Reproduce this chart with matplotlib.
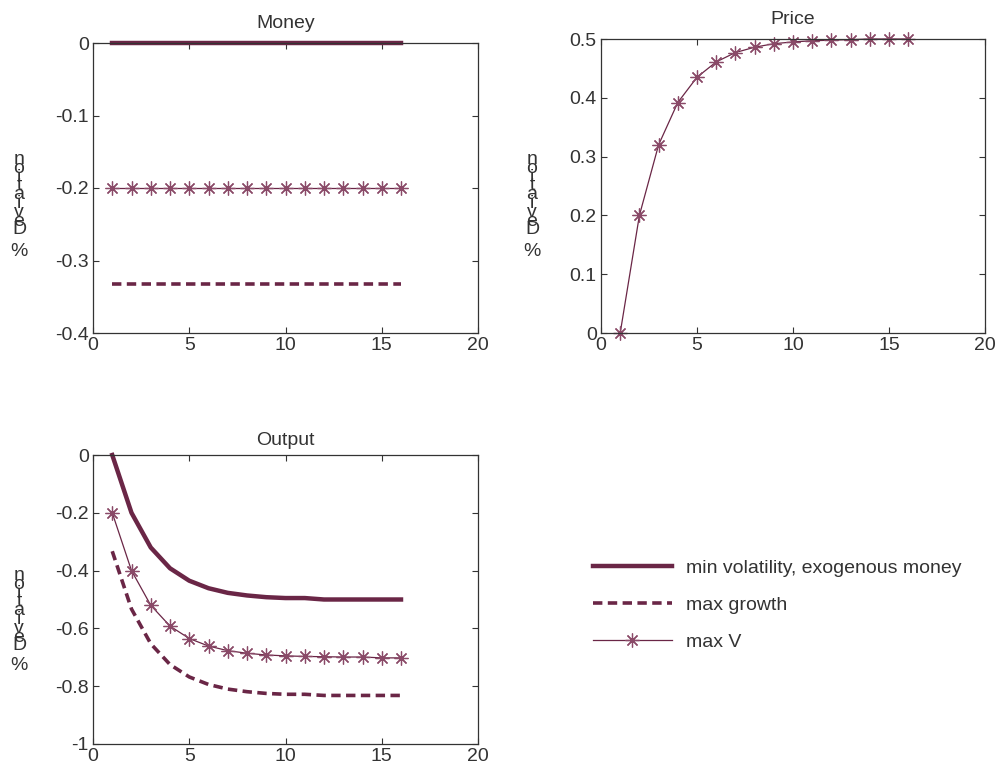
import numpy as np
import matplotlib.pyplot as plt

plt.rcParams['font.family'] = ['Liberation Sans', 'DejaVu Sans']
plt.rcParams['font.size'] = 14
plt.rcParams['text.color'] = '#333333'
plt.rcParams['xtick.color'] = '#333333'
plt.rcParams['ytick.color'] = '#333333'

periods = np.arange(1, 17)

money_minvol = [0.0] * 16
money_maxgrowth = [-0.333] * 16
money_maxv = [-0.2] * 16

price_maxv = [0.0, 0.2, 0.32, 0.392, 0.435, 0.461, 0.477, 0.486, 0.492,
              0.495, 0.497, 0.498, 0.499, 0.5, 0.5, 0.5]

output_minvol = [0.0, -0.2, -0.32, -0.392, -0.435, -0.461, -0.477, -0.486,
                 -0.492, -0.495, -0.495, -0.5, -0.5, -0.5, -0.5, -0.5]
output_maxgrowth = [-0.333, -0.533, -0.653, -0.725, -0.768, -0.794, -0.81,
                    -0.819, -0.825, -0.828, -0.828, -0.832, -0.832, -0.832,
                    -0.832, -0.832]
output_maxv = [-0.2, -0.4, -0.52, -0.592, -0.635, -0.661, -0.677, -0.686,
               -0.692, -0.695, -0.697, -0.698, -0.699, -0.699, -0.702, -0.702]

series_labels = ['min volatility, exogenous money', 'max growth', 'max V']
col = '#6a2646'
star_col = '#8a4a68'


def style(ax):
    ax.set_xlim(0, 20)
    ax.set_xticks([0, 5, 10, 15, 20])
    ax.tick_params(direction='in', top=True, right=True, length=4,
                   labelsize=14, pad=3)
    for s in ax.spines.values():
        s.set_color('#333333')
        s.set_linewidth(0.9)


def thick(ax, y):
    return ax.plot(periods, y, color=col, lw=3.2, clip_on=False)[0]


def dashed(ax, y):
    return ax.plot(periods, y, color=col, lw=2.6, ls=(0, (2.6, 1.5)),
                   clip_on=False)[0]


def starred(ax, y):
    return ax.plot(periods, y, color=col, lw=0.9, marker=(8, 2, 0), ms=10,
                   mec=star_col, mew=0.9, clip_on=False)[0]


def fmt(v):
    s = ('%.1f' % v)
    if s in ('0.0', '-0.0'):
        return '0'
    if s == '-1.0':
        return '-1'
    return s


W, H = 1002, 773
fig = plt.figure(figsize=(W / 100, H / 100), dpi=100)


def box(x0, y0, x1, y1):
    return [x0 / W, 1 - y1 / H, (x1 - x0) / W, (y1 - y0) / H]


ax1 = fig.add_axes(box(93, 43, 478, 333))
style(ax1)
thick(ax1, money_minvol)
dashed(ax1, money_maxgrowth)
starred(ax1, money_maxv)
ax1.set_ylim(-0.4, 0)
yt = [-0.4, -0.3, -0.2, -0.1, 0]
ax1.set_yticks(yt)
ax1.set_yticklabels([fmt(v) for v in yt])
ax1.set_title('Money', fontsize=14, pad=11)

ax2 = fig.add_axes(box(601, 39, 985, 333))
style(ax2)
starred(ax2, price_maxv)
ax2.set_ylim(0, 0.5)
yt = [0, 0.1, 0.2, 0.3, 0.4, 0.5]
ax2.set_yticks(yt)
ax2.set_yticklabels([fmt(v) for v in yt])
ax2.set_title('Price', fontsize=14, pad=11)

ax3 = fig.add_axes(box(93, 455, 478, 744))
style(ax3)
h1 = thick(ax3, output_minvol)
h2 = dashed(ax3, output_maxgrowth)
h3 = starred(ax3, output_maxv)
ax3.set_ylim(-1, 0)
yt = [-1, -0.8, -0.6, -0.4, -0.2, 0]
ax3.set_yticks(yt)
ax3.set_yticklabels([fmt(v) for v in yt])
ax3.set_title('Output', fontsize=14, pad=7)

# stacked "% Deviation" labels as in the source figure
ylab = '\n'.join(list('noitaiveD'))
for x, y_top, y_pct in [(19, 151, 252), (532, 151, 252), (19, 567, 666)]:
    fig.text(x / W, 1 - y_top / H, ylab, ha='center', va='top',
             fontsize=14, linespacing=0.37)
    fig.text(x / W, 1 - y_pct / H, '%', ha='center', va='center',
             fontsize=14)

leg = fig.legend([h1, h2, h3], series_labels, loc='upper left',
                 bbox_to_anchor=(575 / W, 1 - 542 / H), frameon=False,
                 fontsize=14, handlelength=4.1, labelspacing=1.0,
                 handletextpad=0.7)

fig.savefig('out.png', dpi=100)
